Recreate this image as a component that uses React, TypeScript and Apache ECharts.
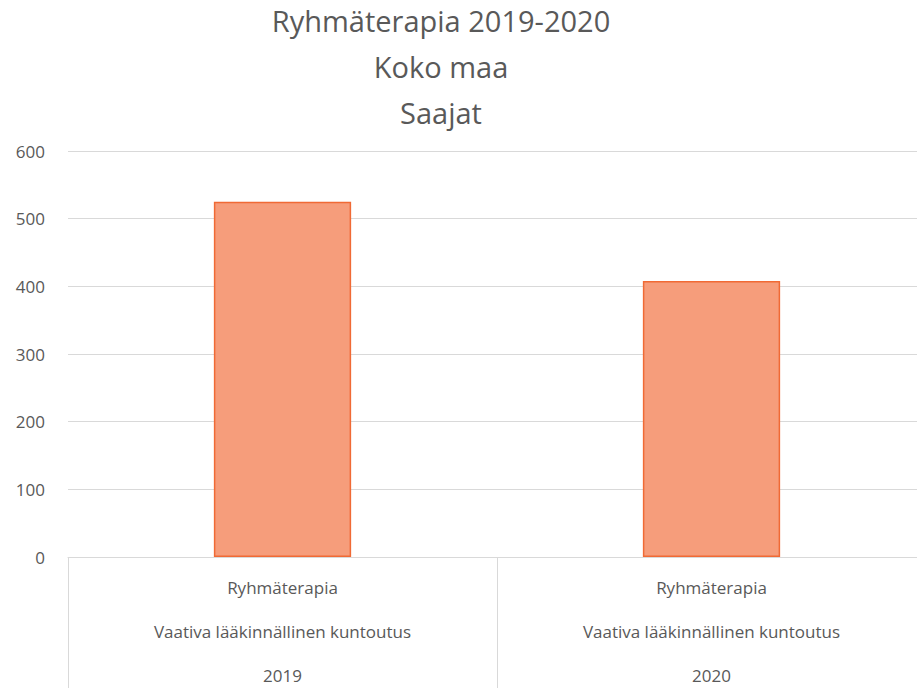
import React, { useEffect, useRef } from "react";
import * as echarts from "echarts";

const titleLines = ["Ryhmäterapia 2019-2020", "Koko maa", "Saajat"];
const level1 = ["Ryhmäterapia", "Ryhmäterapia"];
const level2 = ["Vaativa lääkinnällinen kuntoutus", "Vaativa lääkinnällinen kuntoutus"];
const years = ["2019", "2020"];
const values = [525, 408];
const yTicks = { min: 0, max: 600, interval: 100 };

const FONT = "'Open Sans', 'Noto Sans', sans-serif";

export default function App() {
  const ref = useRef<HTMLDivElement>(null);
  useEffect(() => {
    if (!ref.current) return;
    const chart = echarts.init(ref.current, undefined, { renderer: "svg" });
    const categories = years.map((y, i) => `${level1[i]}\n${level2[i]}\n${y}`);
    chart.setOption({
      animation: false,
      backgroundColor: "#ffffff",
      title: {
        text: titleLines.join("\n"),
        left: 436,
        top: -8,
        textAlign: "center",
        textStyle: {
          fontFamily: FONT,
          fontSize: 29,
          fontWeight: "normal",
          color: "#595959",
          lineHeight: 46,
        },
      },
      grid: {
        left: 68,
        right: -9,
        top: 151,
        bottom: 131,
        containLabel: false,
        outerBoundsMode: "none",
      },
      xAxis: {
        type: "category",
        data: categories,
        axisLine: { show: true, lineStyle: { color: "#d9d9d9", width: 1 } },
        axisTick: {
          show: true,
          alignWithLabel: false,
          interval: 0,
          length: 131,
          lineStyle: { color: "#d9d9d9", width: 1 },
        },
        axisLabel: {
          interval: 0,
          margin: 8,
          lineHeight: 44,
          fontSize: 17,
          fontFamily: FONT,
          color: "#595959",
        },
      },
      yAxis: {
        type: "value",
        min: yTicks.min,
        max: yTicks.max,
        interval: yTicks.interval,
        axisLine: { show: false },
        axisTick: { show: false },
        axisLabel: {
          margin: 23,
          fontSize: 17,
          fontFamily: FONT,
          color: "#595959",
        },
        splitLine: { lineStyle: { color: "#d9d9d9", width: 1 } },
      },
      series: [
        {
          type: "bar",
          data: values,
          barWidth: "32%",
          itemStyle: {
            color: "#F69D7B",
            borderColor: "#F06A35",
            borderWidth: 1.5,
          },
        },
      ],
    });
    return () => chart.dispose();
  }, []);
  return (
    <div
      ref={ref}
      style={{ position: "fixed", left: 0, top: 0, width: 917, height: 688 }}
    />
  );
}
